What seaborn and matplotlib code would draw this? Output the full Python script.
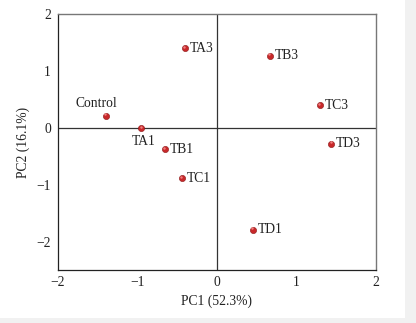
import matplotlib
matplotlib.use("Agg")
import matplotlib.pyplot as plt
import seaborn as sns
import pandas as pd
from matplotlib.patches import Rectangle

samples = ["Control", "TA1", "TB1", "TC1", "TD1", "TA3", "TB3", "TC3", "TD3"]
pc1 = [-1.40, -0.95, -0.65, -0.44, 0.45, -0.40, 0.67, 1.30, 1.44]
pc2 = [0.21, -0.01, -0.38, -0.89, -1.79, 1.40, 1.27, 0.40, -0.28]

x_ticks = [-2, -1, 0, 1, 2]
y_ticks = [-2, -1, 0, 1, 2]

df = pd.DataFrame({"sample": samples, "PC1": pc1, "PC2": pc2})

sns.set_style("white")
plt.rcParams["font.family"] = ["Liberation Serif", "DejaVu Serif"]

fig = plt.figure(figsize=(4.16, 3.23), dpi=100)
fig.patch.set_facecolor("white")
# light strip along the right and bottom edges
fig.add_artist(Rectangle((405 / 416, 0), 11 / 416, 1, transform=fig.transFigure,
                         facecolor="#f1f1f1", edgecolor="none", zorder=-1))
fig.add_artist(Rectangle((0, 0), 1, 5 / 323, transform=fig.transFigure,
                         facecolor="#f1f1f1", edgecolor="none", zorder=-1))

ax = fig.add_axes([58 / 416, 1 - 270 / 323, 318 / 416, 256 / 323])
ax.set_facecolor("white")

ax.axhline(0, color="#333333", lw=0.9, zorder=1)
ax.axvline(0, color="#333333", lw=0.9, zorder=1)

sns.scatterplot(data=df, x="PC1", y="PC2", ax=ax, color="#c8282a", s=20,
                edgecolor="#8a1515", linewidth=0.4, zorder=3, legend=False)
# small highlight for a rounded look
ax.scatter(df["PC1"] - 0.012, df["PC2"] + 0.025, s=3, color="#f08080",
           linewidth=0, zorder=4)

offsets = {
    "Control": (-0.12, 0.10, "center", "bottom"),
    "TA1": (0.03, -0.11, "center", "top"),
}
for s, x, y in zip(samples, pc1, pc2):
    if s in offsets:
        dx, dy, ha, va = offsets[s]
        ax.text(x + dx, y + dy, s, ha=ha, va=va, fontsize=9.8, color="#222222")
    else:
        ax.text(x + 0.06, y, s, ha="left", va="center", fontsize=9.8, color="#222222")

ax.set_xlim(-2, 2)
ax.set_ylim(-2.5, 2)
ax.set_xticks(x_ticks)
ax.set_yticks(y_ticks)
ax.set_xticklabels(["\u22122", "\u22121", "0", "1", "2"])
ax.set_yticklabels(["\u22122", "\u22121", "0", "1", "2"])
ax.tick_params(axis="x", direction="in", length=3, width=0.8, labelsize=9.8,
               pad=4, colors="#222222")
ax.tick_params(axis="y", direction="out", length=3, width=0.8, labelsize=9.8,
               pad=2, colors="#222222")
ax.set_xlabel("PC1 (52.3%)", fontsize=9.8, color="#222222", labelpad=4)
ax.set_ylabel("PC2 (16.1%)", fontsize=9.8, color="#222222", labelpad=5)

for side in ["left", "bottom"]:
    ax.spines[side].set_color("#222222")
    ax.spines[side].set_linewidth(0.9)
for side in ["top", "right"]:
    ax.spines[side].set_color("#777777")
    ax.spines[side].set_linewidth(1.0)

fig.savefig("out.png", dpi=100)
